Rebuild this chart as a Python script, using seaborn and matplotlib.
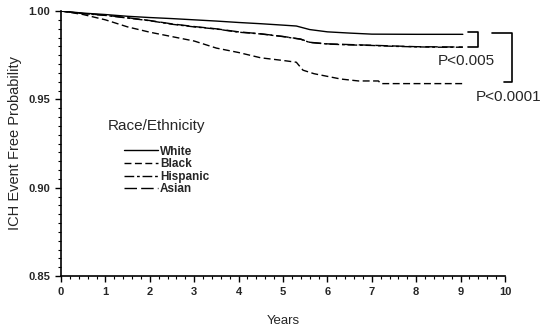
import matplotlib
matplotlib.use("Agg")
import matplotlib.pyplot as plt
from matplotlib.lines import Line2D
from matplotlib.ticker import MultipleLocator, FixedLocator
import seaborn as sns
import pandas as pd

# ---- data ----
white_t = [0, 0.5, 1, 1.5, 2, 2.5, 3, 3.5, 4, 4.5, 5, 5.3, 5.6, 6, 6.5, 7, 8, 9.05]
white_v = [1.0, 0.9988, 0.998, 0.997, 0.9963, 0.9957, 0.995, 0.9943, 0.9935, 0.9928,
           0.992, 0.9915, 0.9895, 0.9882, 0.9875, 0.9869, 0.9868, 0.9868]

hisp_t = [0, 0.5, 1, 1.5, 2, 2.5, 3, 3.5, 4, 4.5, 5, 5.4, 5.6, 6, 6.5, 7, 7.5, 8, 8.5, 9.05]
hisp_v = [1.0, 0.9985, 0.9975, 0.996, 0.9945, 0.9925, 0.991, 0.9898, 0.988, 0.987,
          0.9855, 0.984, 0.9822, 0.9813, 0.9808, 0.9805, 0.98, 0.9797, 0.9795, 0.9795]

black_t = [0, 0.5, 1, 1.5, 2, 2.5, 3, 3.5, 4, 4.5, 5, 5.3, 5.45, 5.7, 6, 6.3, 6.7, 7.15, 7.2, 8, 9.05]
black_v = [1.0, 0.998, 0.995, 0.991, 0.988, 0.9855, 0.983, 0.979, 0.9765, 0.9735,
           0.972, 0.971, 0.9665, 0.9645, 0.963, 0.9615, 0.9604, 0.9604, 0.9589, 0.9589, 0.9589]

asian_t = [0, 0.5, 1, 1.5, 2, 2.5, 3, 3.5, 4, 4.5, 5, 5.4, 5.6, 6, 7, 8, 9.05]
asian_v = [1.0, 0.9986, 0.9976, 0.9962, 0.9946, 0.9927, 0.9912, 0.9899, 0.9882, 0.9871,
           0.9856, 0.9841, 0.9823, 0.9814, 0.9806, 0.9798, 0.9796]

series_names = ["White", "Black", "Hispanic", "Asian"]
x_ticks = [0, 1, 2, 3, 4, 5, 6, 7, 8, 9, 10]
y_ticks = [0.85, 0.90, 0.95, 1.00]
y_tick_labels = ["0.85", "0.90", "0.95", "1.00"]
p_labels = ["P<0.005", "P<0.0001"]

# ---- figure ----
sns.set_style("white")
plt.rcParams['font.family'] = ['Liberation Sans', 'DejaVu Sans']

fig = plt.figure(figsize=(5.41, 3.30), dpi=100)
ax = fig.add_axes([61 / 541, 1 - 276 / 330, (505 - 61) / 541, (276 - 11) / 330])

styles = {
    "White": dict(linestyle="-"),
    "Black": dict(linestyle=(0, (5, 2.5))),
    "Hispanic": dict(linestyle=(0, (7, 2, 2, 2))),
    "Asian": dict(linestyle=(0, (9, 3))),
}
data = {
    "White": (white_t, white_v),
    "Black": (black_t, black_v),
    "Hispanic": (hisp_t, hisp_v),
    "Asian": (asian_t, asian_v),
}
for name in series_names:
    t, v = data[name]
    df = pd.DataFrame({"Years": t, "p": v})
    sns.lineplot(data=df, x="Years", y="p", ax=ax, color="black", lw=1.0,
                 **styles[name])

ax.set_xlim(0, 10)
ax.set_ylim(0.85, 1.0)
ax.xaxis.set_major_locator(FixedLocator(x_ticks))
ax.xaxis.set_minor_locator(MultipleLocator(0.2))
ax.yaxis.set_major_locator(FixedLocator(y_ticks))
ax.yaxis.set_minor_locator(MultipleLocator(0.005))
ax.set_xticklabels([str(x) for x in x_ticks])
ax.set_yticklabels(y_tick_labels)
ax.tick_params(axis="both", which="both", bottom=True, left=True, top=False, right=False)
ax.tick_params(axis="both", which="major", direction="out", length=4, width=1,
               labelsize=8, pad=4, color="black")
ax.tick_params(axis="both", which="minor", direction="out", length=2, width=0.8, color="black")
for lab in ax.get_xticklabels() + ax.get_yticklabels():
    lab.set_fontweight("bold")

for s in ["top", "right"]:
    ax.spines[s].set_visible(False)
for s in ["left", "bottom"]:
    ax.spines[s].set_color("black")
    ax.spines[s].set_linewidth(1.2)

ax.set_xlabel("Years", fontsize=9.5, labelpad=13)
ax.set_ylabel("ICH Event Free Probability", fontsize=10.5, labelpad=4)

# brackets + p-values
kw = dict(color="black", lw=1.2, clip_on=False)
ax.plot([9.17, 9.39, 9.39, 9.17], [0.9880, 0.9880, 0.9795, 0.9795], **kw)
ax.plot([9.71, 10.16, 10.16, 9.98], [0.9875, 0.9875, 0.9597, 0.9597], **kw)
ax.text(9.12, 0.9715, p_labels[0], fontsize=11, ha="center", va="center", clip_on=False)
ax.text(10.07, 0.9515, p_labels[1], fontsize=11, ha="center", va="center", clip_on=False)

# legend
ax.text(0.106, 0.566, "Race/Ethnicity", transform=ax.transAxes, fontsize=11,
        ha="left", va="center")
handles = [Line2D([0], [0], color="black", lw=1.0, **styles[n]) for n in series_names]
leg = ax.legend(handles, series_names, frameon=False,
                loc="upper left", bbox_to_anchor=(0.142, 0.492), borderaxespad=0,
                borderpad=0, handlelength=2.9, handletextpad=0.15, labelspacing=0.05,
                prop=dict(size=8.5, weight="bold"))

fig.savefig("out.png", dpi=100)
